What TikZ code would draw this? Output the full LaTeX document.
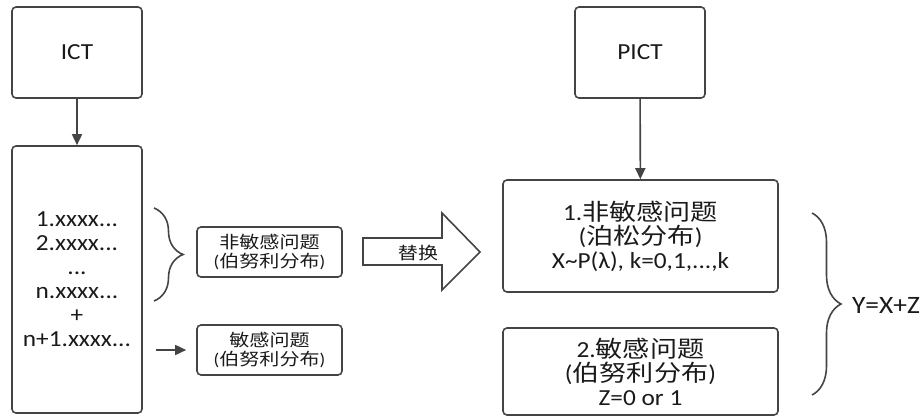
\documentclass[tikz,border=0pt]{standalone}
\usepackage{fontspec}
\setmainfont{Carlito}[FakeStretch=1.1]
\newfontfamily\cjk{Noto Sans CJK SC}[FakeStretch=1.18]
\usetikzlibrary{arrows.meta,decorations.pathreplacing}

\definecolor{linegray}{HTML}{444444}
\definecolor{textgray}{HTML}{1A1A1A}

\newcommand{\fbig}{\fontsize{23}{24}\selectfont}
\newcommand{\fsmall}{\fontsize{17}{19.5}\selectfont}

\tikzset{
    box/.style={draw=linegray, line width=1.6pt, rounded corners=4pt,
        align=center, text=textgray, inner sep=0pt},
    arr/.style={draw=linegray, line width=1.6pt, -{Triangle[length=11pt,width=10pt]}},
    curly/.style={draw=linegray, line width=1.6pt, decorate,
        decoration={brace, amplitude=29pt}},
}

\begin{document}
\begin{tikzpicture}[x=1pt, y=-1pt]
    \useasboundingbox (0, 0) rectangle (922, 419);

    % left column
    \node[box, minimum width=130pt, minimum height=91pt, font=\fbig] (ict) at (77, 52.5) {ICT};
    \node[box, minimum width=130pt, minimum height=267pt, font=\fbig] (list) at (77, 279.5)
        {1.xxxx...\\2.xxxx...\\...\\n.xxxx...\\+\\n+1.xxxx...};

    \node[box, minimum width=145pt, minimum height=50pt, font=\fsmall] (nonsens) at (269.5, 252)
        {{\cjk 非敏感问题}\\({\cjk 伯努利分布})};
    \node[box, minimum width=145pt, minimum height=50pt, font=\fsmall] (sens) at (269.5, 350)
        {{\cjk 敏感问题}\\({\cjk 伯努利分布})};

    \draw[arr] (ict) -- (list);
    \draw[arr, shorten <=13pt, shorten >=10pt] (list.east |- sens) -- (sens.west);

    \coordinate (lbtop) at (154, 208);
    \coordinate (lbbot) at (154, 301);
    \draw[curly] (lbtop) -- (lbbot);

    % replace arrow
    \draw[linegray, line width=1.6pt, line join=miter]
        (363, 238) -- (442, 238) -- (442, 213) -- (480, 252)
        -- (442, 290) -- (442, 265) -- (363, 265) -- cycle;
    \node[text=textgray, font=\fsmall\cjk] (swap) at (418, 253) {替换};

    % right column
    \node[box, minimum width=130pt, minimum height=91pt, font=\fbig] (pict) at (640, 52.5) {PICT};
    \node[box, minimum width=275pt, minimum height=112pt, font=\fbig] (pfirst) at (640.5, 236)
        {1.{\cjk 非敏感问题}\\({\cjk 泊松分布})\\X\textasciitilde P(λ), k=0,1,...,k};
    \node[box, minimum width=275pt, minimum height=87pt, font=\fbig] (psecond) at (640.5, 371.5)
        {2.{\cjk 敏感问题}\\({\cjk 伯努利分布})\\Z=0 or 1};

    \draw[arr] (pict) -- (pfirst);

    \coordinate (rbtop) at (812, 213);
    \coordinate (rbbot) at (812, 395);
    \draw[curly] (rbtop) -- (rbbot);
    \node[text=textgray, font=\fontsize{25}{26}\selectfont] (sum) at (886, 305) {Y=X+Z};
\end{tikzpicture}
\end{document}
